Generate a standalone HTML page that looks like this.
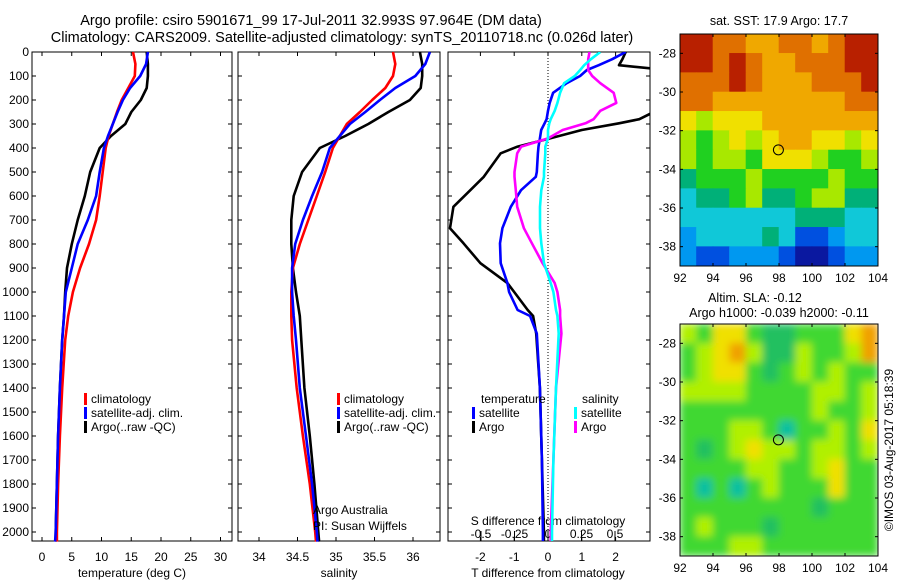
<!DOCTYPE html>
<html><head><meta charset="utf-8"><style>
body{margin:0;background:#fff;}
svg{display:block;font-family:"Liberation Sans",sans-serif;}
</style></head><body>
<svg id="c" width="900" height="580" viewBox="0 0 900 580">
<text x="311" y="25" font-size="14.5" text-anchor="middle">Argo profile: csiro 5901671_99 17-Jul-2011 32.993S 97.964E (DM data)</text>
<text x="342" y="42" font-size="14.5" text-anchor="middle">Climatology: CARS2009. Satellite-adjusted climatology: synTS_20110718.nc (0.026d later)</text>
<g id="g"></g>
</svg>
<script>
// ---------- data ----------
const depths = [0,50,100,150,200,250,300,350,400,500,600,700,800,900,1000,1100,1200,1400,1600,1800,2000,2040];
const tempClim = [15.3,15.7,15.6,14.5,13.4,12.6,11.9,11.2,10.7,10.2,9.7,9.1,7.9,6.4,5.2,4.4,3.9,3.4,3.0,2.7,2.5,2.5];
const tempSat  = [17.8,17.5,16.5,14.8,13.6,12.7,11.9,11.1,10.4,9.7,9.1,7.7,6.0,5.0,4.0,3.7,3.4,3.0,2.7,2.5,2.3,2.2];
const tempArgo = [17.6,17.8,17.8,17.6,16.6,15.0,14.0,11.6,9.7,8.1,7.2,6.0,5.0,4.2,3.9,3.7,3.4,3.0,2.7,2.5,2.3,2.3];
const salClim = [35.74,35.77,35.74,35.64,35.47,35.31,35.14,35.05,34.96,34.86,34.75,34.64,34.53,34.44,34.42,34.42,34.43,34.49,34.57,34.66,34.73,34.74];
const salSat  = [36.22,36.16,36.03,35.77,35.57,35.38,35.18,35.05,34.92,34.82,34.69,34.57,34.47,34.43,34.43,34.45,34.48,34.53,34.61,34.69,34.75,34.76];
const salArgo = [36.09,36.12,36.12,36.10,35.96,35.68,35.42,35.12,34.79,34.56,34.45,34.42,34.42,34.44,34.48,34.53,34.55,34.59,34.66,34.72,34.77,34.78];
const dDepths = [0,30,55,75,100,130,170,212,245,280,297,325,360,394,422,500,520,576,645,734,797,880,963,1000,1075,1100,1173,1400,1700,2000,2040];
const dTempArgo = [2.3,2.2,2.1,3.5,3.5,3.5,3.5,3.5,3.2,2.7,2.1,1.0,0.06,-0.9,-1.4,-1.8,-1.9,-2.3,-2.8,-2.9,-2.5,-2.0,-1.2,-1.0,-0.6,-0.44,-0.35,-0.24,-0.18,-0.12,-0.12];
const dTempSat  = [2.3,1.9,1.5,1.15,0.95,0.55,0.15,0.05,0.0,-0.04,-0.1,-0.2,-0.24,-0.28,-0.3,-0.33,-0.36,-0.8,-1.1,-1.35,-1.42,-1.4,-1.2,-1.15,-0.9,-0.53,-0.33,-0.24,-0.18,-0.15,-0.15];
const dSalArgo  = [0.31,0.30,0.30,0.30,0.33,0.39,0.49,0.51,0.39,0.34,0.28,0.11,0.0,-0.2,-0.23,-0.25,-0.25,-0.24,-0.23,-0.18,-0.12,-0.04,0.05,0.07,0.09,0.09,0.10,0.06,0.04,0.02,0.02];
const dSalSat   = [0.39,0.32,0.27,0.24,0.2,0.12,0.09,0.07,0.05,0.02,0.01,0.0,0.0,-0.02,-0.02,-0.03,-0.03,-0.05,-0.06,-0.06,-0.05,-0.03,0.02,0.04,0.06,0.07,0.08,0.06,0.04,0.03,0.03];
const depthTicks = [0,100,200,300,400,500,600,700,800,900,1000,1100,1200,1300,1400,1500,1600,1700,1800,1900,2000];
const tempTicks = [0,5,10,15,20,25,30];
const salTicks = [34,34.5,35,35.5,36];
const salTickLabels = ["34","34.5","35","35.5","36"];
const dTTicks = [-2,-1,0,1,2];
const dSTicks = [-0.5,-0.25,0,0.25,0.5];
const dSTickLabels = ["-0.5","-0.25","0","0.25","0.5"];
const lonTicks = [92,94,96,98,100,102,104];
const latTicks = [-28,-30,-32,-34,-36,-38];
const sstGrid = [
[10,10,9,9,8,8,9,9,8,9,10,10],
[10,10,9,10,9,8,8,9,9,9,10,10],
[9,9,9,10,9,8,8,8,9,9,9,10],
[9,9,8,8,8,8,8,8,8,8,9,9],
[7,6,7,7,7,8,8,8,8,8,8,8],
[6,5,6,7,6,7,8,8,7,7,6,7],
[6,5,6,6,5,7,7,7,6,5,5,6],
[4,5,5,5,6,5,5,5,5,6,5,5],
[3,4,4,5,6,4,4,5,6,6,4,4],
[3,3,3,3,3,3,3,4,4,4,3,3],
[2,3,3,3,3,4,3,1,1,2,3,3],
[2,1,1,2,2,2,1,0,0,1,2,2]];
const slaGrid = [
[6,5,7,7,5,4,4,5,5,5,7,8],
[5,6,7,8,6,4,4,6,5,5,6,8],
[5,6,7,7,5,4,5,6,5,6,5,5],
[6,6,6,6,5,5,5,5,6,6,5,6],
[5,5,5,5,5,5,5,5,6,5,5,6],
[5,5,5,6,6,5,3,5,5,6,5,7],
[5,4,5,6,7,6,6,5,6,6,5,6],
[5,5,5,5,6,6,5,5,6,7,5,5],
[5,3,5,3,5,6,5,5,5,7,5,5],
[5,5,5,5,5,5,5,5,4,5,5,5],
[5,6,5,5,5,4,5,5,5,5,5,5],
[5,5,5,6,6,5,5,5,5,5,5,5]];
const argoLon = 97.964, argoLat = -32.993;

// ---------- helpers ----------
const NS="http://www.w3.org/2000/svg";
const G=document.getElementById('g');
function el(tag,attrs,parent){const e=document.createElementNS(NS,tag);for(const k in attrs)e.setAttribute(k,attrs[k]);(parent||G).appendChild(e);return e;}
function txt(x,y,s,size,anchor,parent){const t=el('text',{x:x,y:y,'font-size':size||12,'text-anchor':anchor||'middle'},parent);t.textContent=s;return t;}
const yD = d => 52 + d*0.24;
const xT = v => 42 + v*5.95;
const xS = v => 259 + (v-34)*77;
const xDT = v => 548 + v*33.8;
const xDS = v => 548 + v*134;
const TOP=52, BOT=541;
const panels=[[32,232],[238,440],[448,650]];

panels.forEach((p,i)=>{
  const r=el('rect',{x:p[0],y:TOP,width:p[1]-p[0],height:BOT-TOP,fill:'none',stroke:'#000','stroke-width':1});
  
  
  depthTicks.forEach(d=>{
    const l1=el('line',{x1:p[0],x2:p[0]+4,y1:yD(d),y2:yD(d),stroke:'#000'});
    
    
    const l2=el('line',{x1:p[1]-4,x2:p[1],y1:yD(d),y2:yD(d),stroke:'#000'});
    
    
  });
});
depthTicks.forEach(d=>{
  const t=txt(29,yD(d)+4,String(d),12,'end');
  
  
});
function xticks(vals,labels,fx,yl){
  vals.forEach((v,i)=>{
    const x=fx(v);
    el('line',{x1:x,x2:x,y1:TOP,y2:TOP+4,stroke:'#000'});
    el('line',{x1:x,x2:x,y1:BOT-4,y2:BOT,stroke:'#000'});
    const t=txt(x,yl,labels[i],12);
    
    
  });
}
xticks(tempTicks,tempTicks.map(String),xT,561);
xticks(salTicks,salTickLabels,xS,561);
xticks(dTTicks,dTTicks.map(String),xDT,561);
dSTicks.forEach((v,i)=>{
  const x=xDS(v);
  el('line',{x1:x,x2:x,y1:BOT-10,y2:BOT,stroke:'#000'});
  const t=txt(x,538,dSTickLabels[i],12);
  
  
});
let t;
t=txt(132,577,'temperature (deg C)',12);
t=txt(339,577,'salinity',12);
t=txt(548,577,'T difference from climatology',12);
t=txt(548,525,'S difference from climatology',12);
const zl=el('line',{x1:548,x2:548,y1:TOP,y2:BOT,stroke:'#000','stroke-dasharray':'1,2'});



const defs=el('defs',{});
const cp=el('clipPath',{id:'cp3'},defs);el('rect',{x:448,y:TOP,width:202,height:BOT-TOP},cp);
function line(ds,vals,fx,color,name,clip){
  const pts=ds.map((d,i)=>fx(vals[i]).toFixed(1)+','+yD(d).toFixed(1)).join(' ');
  const p=el('polyline',{points:pts,fill:'none',stroke:color,'stroke-width':2.6,'stroke-linejoin':'round'});
  if(clip)p.setAttribute('clip-path','url(#cp3)');
  
  
}
line(depths,tempArgo,xT,'#000','temp-argo-line');
line(depths,tempClim,xT,'#f00','temp-climatology-line');
line(depths,tempSat,xT,'#00f','temp-satellite-line');
line(depths,salArgo,xS,'#000','sal-argo-line');
line(depths,salClim,xS,'#f00','sal-climatology-line');
line(depths,salSat,xS,'#00f','sal-satellite-line');
line(dDepths,dTempArgo,xDT,'#000','tdiff-argo-line',true);
line(dDepths,dTempSat,xDT,'#00f','tdiff-satellite-line',true);
line(dDepths,dSalArgo,xDS,'#f0f','sdiff-argo-line',true);
line(dDepths,dSalSat,xDS,'#0ff','sdiff-satellite-line',true);

function leg(x,y,color,label,name){
  const r=el('rect',{x:x,y:y-10,width:3,height:12,fill:color});
  
  
  const tt=txt(x+7,y,label,12,'start');
  
  
}
leg(84,403,'#f00','climatology','legend-climatology');
leg(84,417,'#00f','satellite-adj. clim.','legend-satellite');
leg(84,431,'#000','Argo(..raw -QC)','legend-argo');
leg(337,403,'#f00','climatology','legend-climatology-2');
leg(337,417,'#00f','satellite-adj. clim.','legend-satellite-2');
leg(337,431,'#000','Argo(..raw -QC)','legend-argo-2');
t=txt(481,403,'temperature',12,'start');
t=txt(582,403,'salinity',12,'start');
leg(472,417,'#00f','satellite','legend-t-satellite');
leg(472,431,'#000','Argo','legend-t-argo');
leg(574,417,'#0ff','satellite','legend-s-satellite');
leg(574,431,'#f0f','Argo','legend-s-argo');
t=txt(313,514,'Argo Australia',12,'start');
t=txt(313,530,'PI: Susan Wijffels',12,'start');

const sstPal=['#0a18a0','#0050e0','#0098f0','#10c8d8','#00b078','#20d020','#a8e800','#f0e000','#f0a800','#e07000','#b82000'];
const slaPal=['#0a18a0','#0050e0','#0098f0','#10c0a0','#20c060','#40d830','#b0f000','#f0e000','#f0a000'];
function map(x0,y0,grid,pal,name,blur){
  const W=198,H=232; const xL=v=>x0+(v-92)*W/12; const yL=v=>y0+(-27-v)*H/12;
  const cid='clip'+name;
  const c=el('clipPath',{id:cid},defs);el('rect',{x:x0,y:y0,width:W,height:H},c);
  const g=el('g',{'clip-path':'url(#'+cid+')'});
  const inner=el('g',blur?{filter:'url(#bl)'}:{},g);
  grid.forEach((row,r)=>row.forEach((v,ci)=>{
    const cell=el('rect',{x:xL(92+ci)-0.3,y:yL(-27-r)-0.3,width:W/12+0.6,height:H/12+0.6,fill:pal[v]},inner);
    
    
  }));
  const fr=el('rect',{x:x0,y:y0,width:W,height:H,fill:'none',stroke:'#000'});
  
  
  lonTicks.forEach(v=>{el('line',{x1:xL(v),x2:xL(v),y1:y0,y2:y0+3,stroke:'#000'});el('line',{x1:xL(v),x2:xL(v),y1:y0+H-3,y2:y0+H,stroke:'#000'});
    const tt=txt(xL(v),y0+H+16,String(v),12);});
  latTicks.forEach(v=>{el('line',{x1:x0,x2:x0+3,y1:yL(v),y2:yL(v),stroke:'#000'});el('line',{x1:x0+W-3,x2:x0+W,y1:yL(v),y2:yL(v),stroke:'#000'});
    const tt=txt(x0-4,yL(v)+4,String(v),12,'end');});
  const m=el('circle',{cx:xL(argoLon),cy:yL(argoLat),r:5,fill:'none',stroke:'#000'});
  
  
}
const f=el('filter',{id:'bl',x:'-10%',y:'-10%',width:'120%',height:'120%'},defs);el('feGaussianBlur',{stdDeviation:4},f);
map(680,34,sstGrid,sstPal,'sst-map',false);
map(680,324,slaGrid,slaPal,'sla-map',true);
t=txt(779,25,'sat. SST: 17.9 Argo: 17.7',12.5);
t=txt(755,302,'Altim. SLA: -0.12',12.5);
t=txt(779,317,'Argo h1000: -0.039 h2000: -0.11',12.5);
t=txt(0,0,'©IMOS 03-Aug-2017 05:18:39',12);t.setAttribute('transform','translate(893,450) rotate(-90)');
</script>
</body></html>
